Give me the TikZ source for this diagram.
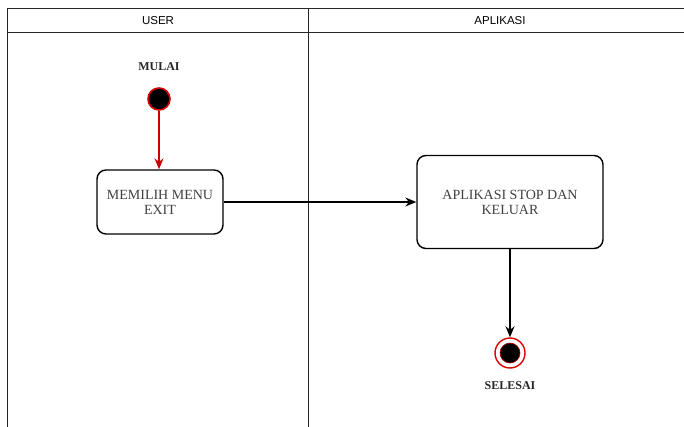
\documentclass[tikz,border=0pt]{standalone}
\usepackage{fontspec}
\setmainfont{Liberation Serif}
\setsansfont{Liberation Sans}
\usetikzlibrary{arrows.meta}

\begin{document}
\begin{tikzpicture}[x=1pt,y=-1pt,every text node part/.style={align=center}]
\tikzstyle{lane}=[draw=black!85,line width=1pt]
\tikzstyle{lanehead}=[font=\sffamily\fontsize{11.5}{13}\selectfont,text=black]
\tikzstyle{state}=[draw=black,line width=1.4pt,rounded corners=9pt,text=black!75,font=\fontsize{14}{15}\selectfont]
\tikzstyle{flow}=[line width=1.4pt,-{Stealth[length=11pt,width=9pt]}]
\tikzstyle{tag}=[font=\bfseries\fontsize{12}{14}\selectfont,text=black!85]
\useasboundingbox (0,0) rectangle (684,427);
% swimlanes
\draw [lane] (7,427) -- (7,9) -- (684,9);
\draw [lane] (7,33) -- (684,33);
\draw [lane] (308,9) -- (308,427);
\node [lanehead] (user) at (158,21) {USER};
\node [lanehead] (aplikasi) at (500,21) {APLIKASI};
% start
\node [tag] (mulailabel) at (159,67) {MULAI};
\node [circle,fill=black,draw=red!85!black,line width=1.6pt,minimum size=22pt,inner sep=0pt] (mulai) at (159,99) {};
% states
\node [state,minimum width=126pt,minimum height=64pt] (memilih) at (160,202) {MEMILIH MENU\\EXIT};
\node [state,minimum width=186pt,minimum height=93pt] (stop) at (510,202) {APLIKASI STOP DAN\\KELUAR};
% end
\node [circle,draw=red!85!black,line width=1.4pt,minimum size=30pt,inner sep=0pt] (selesai) at (510,353) {};
\node [circle,fill=black,draw=red!70!black,line width=0.6pt,minimum size=20pt,inner sep=0pt] (selesaidot) at (selesai) {};
\node [tag] (selesailabel) at (510,386) {SELESAI};
% transitions
\draw [flow,draw=red!80!black] (mulai) -- (mulai |- memilih.north);
\draw [flow] (memilih) -- (stop);
\draw [flow] (stop) -- (selesai);
\end{tikzpicture}
\end{document}
